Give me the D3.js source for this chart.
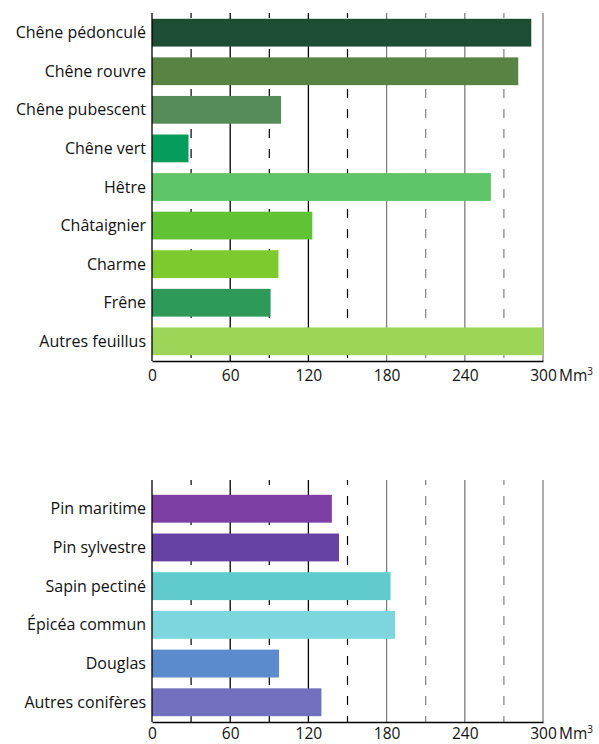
<!DOCTYPE html>
<html>
<head>
<meta charset="utf-8">
<script src="https://cdn.jsdelivr.net/npm/d3@7"></script>
<style>
  body { margin: 0; background: #fff; }
  svg { display: block; font-family: "Open Sans", "Noto Sans", sans-serif; }
</style>
</head>
<body>
<svg id="chart" width="599" height="744"></svg>
<script>
// Feuillus (top chart)
const feuillusNames = ['Chêne pédonculé', 'Chêne rouvre', 'Chêne pubescent', 'Chêne vert', 'Hêtre',
    'Châtaignier', 'Charme', 'Frêne', 'Autres feuillus'];
const feuillusValues = [291, 281, 99, 28, 260, 123, 97, 91, 300];
const feuillusColors = ['#1e4d35', '#588342', '#568c58', '#069c5c', '#5ec468',
    '#62c235', '#7cca2e', '#2e9a5a', '#9cd558'];

// Conifères (bottom chart)
const coniferesNames = ['Pin maritime', 'Pin sylvestre', 'Sapin pectiné', 'Épicéa commun', 'Douglas', 'Autres conifères'];
const coniferesValues = [138, 143.5, 183, 186.5, 97.5, 130];
const coniferesColors = ['#7d3fa3', '#6542a3', '#61cacd', '#7dd6dd', '#5b8bcd', '#7171bd'];

const tickValues = [0, 60, 120, 180, 240, 300];
const gridValues = [30, 60, 90, 120, 150, 180, 210, 240, 270, 300];

const svg = d3.select('#chart');
const x = d3.scaleLinear().domain([0, 300]).range([152, 543]);
const fontFam = '"Open Sans", "Noto Sans", sans-serif';

function drawChart(names, values, colors, gridTop, bandTop, axisY, labelOffset) {
    let g = svg.append('g');
    let y = d3.scaleBand()
        .domain(names)
        .range([bandTop, axisY])
        .paddingInner(0.28)
        .paddingOuter(0.15);

    // Grid lines: solid every 60, dashed in between
    g.selectAll('line.grid')
        .data(gridValues)
        .join('line')
        .attr('class', 'grid')
        .attr('x1', d => x(d)).attr('x2', d => x(d))
        .attr('y1', gridTop).attr('y2', axisY)
        .attr('stroke', d => d <= 150 ? '#000' : '#7f7f7f')
        .attr('stroke-width', d => d % 60 === 0 ? 1.3 : 1.2)
        .attr('stroke-dasharray', d => d % 60 === 0 ? null : '9,11')
        .attr('stroke-dashoffset', 4);

    g.selectAll('rect')
        .data(values)
        .join('rect')
        .attr('x', x(0))
        .attr('y', (d, i) => y(names[i]))
        .attr('width', d => x(d) - x(0))
        .attr('height', y.bandwidth())
        .attr('fill', (d, i) => colors[i]);

    // Category labels
    g.selectAll('text.cat')
        .data(names)
        .join('text')
        .attr('class', 'cat')
        .attr('x', 146)
        .attr('y', d => y(d) + y.bandwidth() / 2)
        .attr('dy', '0.35em')
        .attr('text-anchor', 'end')
        .attr('font-size', 16)
        .attr('fill', '#111')
        .text(d => d);

    // Left axis line
    g.append('line')
        .attr('x1', x(0)).attr('x2', x(0))
        .attr('y1', gridTop).attr('y2', axisY)
        .attr('stroke', '#000').attr('stroke-width', 1.3);

    let axis = g.append('g')
        .attr('transform', `translate(0,${axisY})`)
        .call(d3.axisBottom(x).tickValues(tickValues).tickSize(0).tickSizeOuter(0));
    axis.select('.domain').attr('stroke', '#000').attr('stroke-width', 1.4);
    axis.selectAll('text')
        .attr('y', labelOffset)
        .attr('dy', null)
        .attr('font-size', 15.5)
        .attr('font-family', fontFam)
        .attr('fill', '#111');

    let unit = g.append('text')
        .attr('x', 559)
        .attr('y', axisY + labelOffset)
        .attr('font-size', 15.5)
        .attr('fill', '#111');
    unit.append('tspan').text('Mm');
    unit.append('tspan').attr('font-size', 10).attr('dy', -6).text('3');
}

drawChart(feuillusNames, feuillusValues, feuillusColors, 13, 13, 361, 20);
drawChart(coniferesNames, coniferesValues, coniferesColors, 480, 489, 722, 17);
</script>
</body>
</html>
